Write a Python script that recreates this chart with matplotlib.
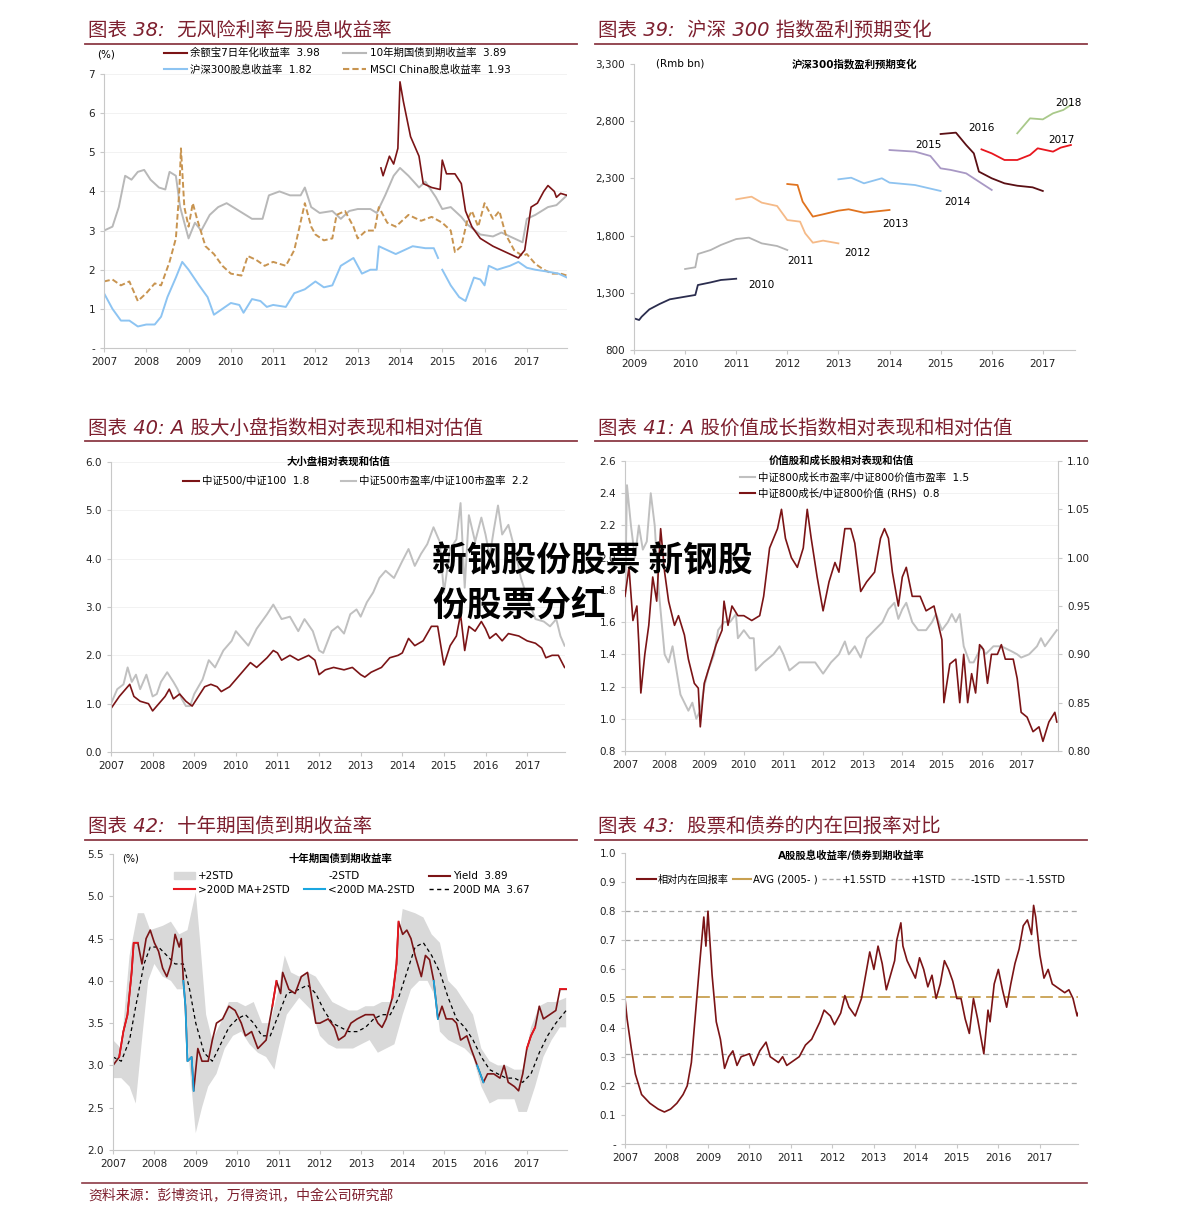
import numpy as np
import matplotlib
matplotlib.use('Agg')
import matplotlib.pyplot as plt
from matplotlib.lines import Line2D
from matplotlib.patches import Patch

plt.rcParams['font.family'] = ['DejaVu Sans', 'Noto Sans CJK SC']
plt.rcParams['axes.unicode_minus'] = False

# ---------------- data: 图表38 ----------------
yeb_x = [2013.55, 2013.6, 2013.75, 2013.85, 2013.95, 2014.0, 2014.08, 2014.25, 2014.45, 2014.55, 2014.75,
         2014.95, 2015.0, 2015.1, 2015.3, 2015.45, 2015.55, 2015.7, 2015.9, 2016.2, 2016.5, 2016.7, 2016.8,
         2016.95, 2017.1, 2017.25, 2017.4, 2017.5, 2017.65, 2017.7, 2017.8, 2017.95]
yeb_y = [4.6, 4.4, 4.9, 4.7, 5.1, 6.8, 6.3, 5.4, 4.9, 4.2, 4.1, 4.05, 4.8, 4.45, 4.45, 4.2, 3.5, 3.1, 2.8,
         2.6, 2.45, 2.35, 2.3, 2.5, 3.6, 3.7, 4.0, 4.15, 4.0, 3.85, 3.95, 3.9]
bond_x = [2007.0, 2007.2, 2007.35, 2007.5, 2007.65, 2007.8, 2007.95, 2008.1, 2008.3, 2008.45, 2008.55, 2008.7,
          2008.8, 2008.9, 2009.0, 2009.15, 2009.3, 2009.5, 2009.7, 2009.9, 2010.2, 2010.5, 2010.75, 2010.9,
          2011.15, 2011.4, 2011.65, 2011.75, 2011.9, 2012.1, 2012.4, 2012.6, 2012.8, 2013.0, 2013.3, 2013.45,
          2013.65, 2013.85, 2014.0, 2014.2, 2014.45, 2014.6, 2014.85, 2015.0, 2015.2, 2015.45, 2015.6, 2015.9,
          2016.2, 2016.4, 2016.7, 2016.9, 2017.0, 2017.2, 2017.5, 2017.7, 2017.95]
bond_y = [3.0, 3.1, 3.6, 4.4, 4.3, 4.5, 4.55, 4.3, 4.1, 4.05, 4.5, 4.4, 3.6, 3.2, 2.8, 3.2, 3.0, 3.4, 3.6,
          3.7, 3.5, 3.3, 3.3, 3.9, 4.0, 3.9, 3.9, 4.1, 3.6, 3.45, 3.5, 3.3, 3.5, 3.55, 3.55, 3.45, 3.9, 4.4,
          4.6, 4.4, 4.1, 4.25, 3.85, 3.55, 3.6, 3.35, 3.15, 2.9, 2.85, 2.95, 2.8, 2.7, 3.3, 3.4, 3.6, 3.65, 3.9]
hs_x = [2007.0, 2007.2, 2007.4, 2007.6, 2007.8, 2008.0, 2008.2, 2008.35, 2008.5, 2008.7, 2008.85, 2009.0,
        2009.25, 2009.45, 2009.6, 2009.8, 2010.0, 2010.2, 2010.3, 2010.5, 2010.7, 2010.85, 2011.0, 2011.3,
        2011.5, 2011.75, 2012.0, 2012.2, 2012.4, 2012.6, 2012.9, 2013.1, 2013.3, 2013.45, 2013.5, 2013.7,
        2013.9, 2014.1, 2014.3, 2014.6, 2014.8, 2014.9, 2014.95, 2015.0, 2015.2, 2015.4, 2015.55, 2015.65,
        2015.75, 2015.9, 2016.0, 2016.1, 2016.3, 2016.6, 2016.8, 2017.0, 2017.2, 2017.5, 2017.75, 2017.95]
hs_y = [1.4, 1.0, 0.7, 0.7, 0.55, 0.6, 0.6, 0.8, 1.3, 1.8, 2.2, 2.0, 1.6, 1.3, 0.85, 1.0, 1.15, 1.1, 0.9,
        1.25, 1.2, 1.05, 1.1, 1.05, 1.4, 1.5, 1.7, 1.55, 1.6, 2.1, 2.3, 1.9, 2.0, 2.0, 2.6, 2.5, 2.4, 2.5,
        2.6, 2.55, 2.55, 2.3, np.nan, 2.0, 1.6, 1.3, 1.2, 1.5, 1.8, 1.75, 1.6, 2.1, 2.0, 2.1, 2.2, 2.05,
        2.0, 1.95, 1.9, 1.8]
msci_x = [2007.0, 2007.2, 2007.4, 2007.6, 2007.8, 2008.0, 2008.2, 2008.35, 2008.55, 2008.7, 2008.78, 2008.82,
          2008.9, 2009.0, 2009.1, 2009.2, 2009.4, 2009.6, 2009.8, 2010.0, 2010.25, 2010.4, 2010.6, 2010.8,
          2011.0, 2011.3, 2011.5, 2011.75, 2011.9, 2012.0, 2012.2, 2012.4, 2012.5, 2012.7, 2012.9, 2013.0,
          2013.2, 2013.4, 2013.5, 2013.7, 2013.9, 2014.2, 2014.5, 2014.75, 2015.0, 2015.2, 2015.3, 2015.45,
          2015.6, 2015.7, 2015.85, 2016.0, 2016.2, 2016.35, 2016.5, 2016.7, 2016.9, 2017.0, 2017.2, 2017.4,
          2017.6, 2017.8, 2017.95]
msci_y = [1.7, 1.75, 1.6, 1.7, 1.2, 1.4, 1.65, 1.6, 2.2, 2.8, 4.0, 5.1, 3.6, 3.1, 3.7, 3.3, 2.6, 2.4, 2.1,
          1.9, 1.85, 2.35, 2.25, 2.1, 2.2, 2.1, 2.5, 3.7, 3.1, 2.9, 2.75, 2.8, 3.4, 3.5, 3.1, 2.8, 3.0, 3.0,
          3.6, 3.2, 3.1, 3.4, 3.25, 3.35, 3.2, 3.0, 2.45, 2.6, 3.3, 3.5, 3.1, 3.7, 3.3, 3.5, 2.9, 2.5, 2.35,
          2.4, 2.15, 2.0, 1.9, 1.9, 1.85]

# ---------------- data: 图表39 ----------------
eps_years = ['2010', '2011', '2012', '2013', '2014', '2015', '2016', '2017', '2018']
eps_colors = ['#2b2d4e', '#b4b4b4', '#f5ba88', '#e0731f', '#8ec3f0', '#a898c4', '#5a0f14', '#e8161e', '#a9c98a']
eps_x = [
    [2009.0, 2009.1, 2009.15, 2009.3, 2009.5, 2009.7, 2010.0, 2010.2, 2010.25, 2010.5, 2010.7, 2011.0],
    [2010.0, 2010.2, 2010.25, 2010.5, 2010.7, 2011.0, 2011.25, 2011.5, 2011.8, 2012.0],
    [2011.0, 2011.3, 2011.5, 2011.8, 2012.0, 2012.25, 2012.35, 2012.5, 2012.7, 2013.0],
    [2012.0, 2012.2, 2012.3, 2012.5, 2012.7, 2013.0, 2013.2, 2013.5, 2014.0],
    [2013.0, 2013.25, 2013.5, 2013.85, 2014.0, 2014.5, 2014.75, 2015.0],
    [2014.0, 2014.5, 2014.8, 2015.0, 2015.2, 2015.5, 2015.8, 2016.0],
    [2015.0, 2015.3, 2015.5, 2015.65, 2015.75, 2016.0, 2016.25, 2016.5, 2016.8, 2017.0],
    [2015.8, 2016.0, 2016.25, 2016.5, 2016.75, 2016.9, 2017.2, 2017.35, 2017.55],
    [2016.5, 2016.75, 2017.0, 2017.2, 2017.4, 2017.55],
]
eps_y = [
    [1077, 1062, 1091, 1155, 1202, 1243, 1266, 1281, 1368, 1391, 1412, 1423],
    [1508, 1523, 1639, 1674, 1718, 1770, 1782, 1732, 1709, 1674],
    [2117, 2140, 2088, 2059, 1936, 1922, 1820, 1738, 1756, 1732],
    [2251, 2242, 2097, 1966, 1986, 2018, 2030, 2000, 2024],
    [2292, 2306, 2257, 2301, 2263, 2242, 2216, 2190],
    [2548, 2534, 2496, 2388, 2374, 2344, 2257, 2199],
    [2688, 2700, 2592, 2519, 2359, 2301, 2257, 2236, 2222, 2190],
    [2554, 2519, 2461, 2461, 2505, 2563, 2534, 2569, 2592],
    [2694, 2825, 2816, 2869, 2898, 2942],
]
eps_label_pos = [(2011.5, 1368), (2012.25, 1581), (2013.38, 1645), (2014.12, 1901), (2015.32, 2091),
                 (2014.77, 2592), (2015.79, 2738), (2017.36, 2636), (2017.5, 2962)]

# ---------------- data: 图表40 ----------------
sc_pe_x = [2007.0, 2007.15, 2007.3, 2007.4, 2007.5, 2007.6, 2007.7, 2007.85, 2008.0, 2008.1, 2008.2, 2008.35,
           2008.5, 2008.6, 2008.7, 2008.8, 2008.9, 2009.0, 2009.2, 2009.35, 2009.5, 2009.7, 2009.9, 2010.0,
           2010.2, 2010.3, 2010.5, 2010.75, 2010.9, 2011.1, 2011.3, 2011.5, 2011.65, 2011.85, 2012.0, 2012.1,
           2012.3, 2012.45, 2012.6, 2012.75, 2012.9, 2013.0, 2013.15, 2013.3, 2013.45, 2013.6, 2013.8, 2014.0,
           2014.15, 2014.3, 2014.45, 2014.6, 2014.75, 2014.9, 2015.0, 2015.15, 2015.3, 2015.4, 2015.5, 2015.6,
           2015.75, 2015.9, 2016.0, 2016.1, 2016.2, 2016.3, 2016.4, 2016.55, 2016.7, 2016.85, 2017.0, 2017.2,
           2017.4, 2017.55, 2017.7, 2017.8, 2017.9]
sc_pe_y = [1.0, 1.3, 1.4, 1.75, 1.45, 1.6, 1.3, 1.6, 1.15, 1.2, 1.45, 1.65, 1.45, 1.3, 1.1, 0.95, 0.95, 1.2,
           1.5, 1.9, 1.75, 2.1, 2.3, 2.5, 2.3, 2.2, 2.55, 2.85, 3.05, 2.75, 2.8, 2.5, 2.75, 2.5, 2.1, 2.05,
           2.5, 2.6, 2.45, 2.85, 2.95, 2.8, 3.1, 3.3, 3.6, 3.75, 3.6, 3.95, 4.2, 3.85, 4.1, 4.3, 4.65, 4.35,
           3.3, 4.2, 4.4, 5.15, 3.4, 4.9, 4.35, 4.85, 4.5, 4.05, 4.6, 5.1, 4.5, 4.7, 4.2, 3.6, 3.2, 2.75, 2.7,
           2.6, 2.75, 2.4, 2.2]
sc_rel_x = [2007.0, 2007.2, 2007.35, 2007.45, 2007.55, 2007.7, 2007.9, 2008.0, 2008.15, 2008.3, 2008.4,
            2008.5, 2008.65, 2008.8, 2008.95, 2009.1, 2009.25, 2009.4, 2009.55, 2009.65, 2009.85, 2010.0,
            2010.2, 2010.35, 2010.5, 2010.75, 2010.9, 2011.0, 2011.1, 2011.3, 2011.5, 2011.75, 2011.9, 2012.0,
            2012.15, 2012.35, 2012.6, 2012.8, 2013.0, 2013.1, 2013.25, 2013.5, 2013.7, 2013.9, 2014.0, 2014.15,
            2014.3, 2014.5, 2014.7, 2014.85, 2015.0, 2015.15, 2015.3, 2015.4, 2015.5, 2015.6, 2015.75, 2015.9,
            2016.0, 2016.1, 2016.25, 2016.4, 2016.55, 2016.8, 2017.0, 2017.2, 2017.35, 2017.45, 2017.6, 2017.75,
            2017.9]
sc_rel_y = [0.9, 1.15, 1.3, 1.4, 1.15, 1.05, 1.0, 0.85, 1.0, 1.15, 1.3, 1.1, 1.2, 1.05, 0.95, 1.15, 1.35,
            1.4, 1.35, 1.25, 1.35, 1.5, 1.7, 1.85, 1.75, 1.95, 2.1, 2.05, 1.9, 2.0, 1.9, 2.0, 1.9, 1.6, 1.7,
            1.75, 1.7, 1.75, 1.6, 1.55, 1.65, 1.75, 1.95, 2.0, 2.05, 2.35, 2.2, 2.3, 2.6, 2.6, 1.8, 2.2, 2.4,
            2.85, 2.1, 2.6, 2.5, 2.7, 2.55, 2.35, 2.45, 2.3, 2.45, 2.4, 2.3, 2.25, 2.15, 1.95, 2.0, 2.0, 1.75]

# ---------------- data: 图表41 ----------------
vg_pe_x = [2007.0, 2007.05, 2007.15, 2007.25, 2007.35, 2007.45, 2007.55, 2007.65, 2007.75, 2007.85, 2008.0,
           2008.1, 2008.2, 2008.3, 2008.4, 2008.5, 2008.6, 2008.7, 2008.8, 2008.9, 2009.0, 2009.1, 2009.25,
           2009.35, 2009.5, 2009.65, 2009.8, 2009.85, 2010.0, 2010.15, 2010.25, 2010.3, 2010.5, 2010.75,
           2010.9, 2011.0, 2011.15, 2011.4, 2011.6, 2011.8, 2012.0, 2012.2, 2012.4, 2012.55, 2012.65, 2012.8,
           2012.95, 2013.1, 2013.3, 2013.5, 2013.65, 2013.8, 2013.9, 2014.0, 2014.1, 2014.25, 2014.4, 2014.6,
           2014.75, 2014.85, 2015.0, 2015.15, 2015.25, 2015.35, 2015.45, 2015.55, 2015.7, 2015.8, 2016.0,
           2016.1, 2016.3, 2016.5, 2016.75, 2016.9, 2017.0, 2017.2, 2017.4, 2017.5, 2017.6, 2017.75, 2017.9]
vg_pe_y = [1.7, 2.45, 2.2, 2.0, 2.2, 2.05, 2.1, 2.4, 2.2, 1.8, 1.4, 1.35, 1.45, 1.3, 1.15, 1.1, 1.05, 1.1,
           1.0, 1.05, 1.2, 1.3, 1.4, 1.55, 1.6, 1.6, 1.65, 1.5, 1.55, 1.5, 1.5, 1.3, 1.35, 1.4, 1.45, 1.4,
           1.3, 1.35, 1.35, 1.35, 1.28, 1.35, 1.4, 1.48, 1.4, 1.45, 1.38, 1.5, 1.55, 1.6, 1.68, 1.72, 1.62,
           1.68, 1.72, 1.6, 1.55, 1.55, 1.6, 1.65, 1.55, 1.6, 1.65, 1.6, 1.65, 1.45, 1.35, 1.35, 1.45, 1.4,
           1.45, 1.45, 1.42, 1.4, 1.38, 1.4, 1.45, 1.5, 1.45, 1.5, 1.55]
vg_rel_x = [2007.0, 2007.1, 2007.2, 2007.3, 2007.35, 2007.4, 2007.5, 2007.6, 2007.7, 2007.8, 2007.9, 2008.0,
            2008.1, 2008.25, 2008.35, 2008.5, 2008.6, 2008.75, 2008.85, 2008.9, 2009.0, 2009.15, 2009.3,
            2009.45, 2009.5, 2009.6, 2009.7, 2009.85, 2010.0, 2010.2, 2010.4, 2010.5, 2010.65, 2010.85,
            2010.95, 2011.05, 2011.2, 2011.35, 2011.5, 2011.6, 2011.7, 2011.85, 2012.0, 2012.15, 2012.3,
            2012.4, 2012.55, 2012.7, 2012.8, 2012.95, 2013.1, 2013.3, 2013.45, 2013.55, 2013.65, 2013.75,
            2013.9, 2014.0, 2014.1, 2014.25, 2014.45, 2014.6, 2014.8, 2015.0, 2015.05, 2015.2, 2015.35,
            2015.45, 2015.55, 2015.65, 2015.75, 2015.85, 2015.95, 2016.05, 2016.15, 2016.25, 2016.4, 2016.5,
            2016.6, 2016.8, 2016.9, 2017.0, 2017.15, 2017.3, 2017.45, 2017.55, 2017.7, 2017.85, 2017.9]
vg_rel_y = [0.96, 0.99, 0.935, 0.95, 0.91, 0.86, 0.9, 0.93, 0.98, 0.955, 1.03, 0.985, 0.955, 0.93, 0.94,
            0.92, 0.895, 0.87, 0.865, 0.825, 0.87, 0.89, 0.91, 0.925, 0.955, 0.93, 0.95, 0.94, 0.94, 0.935,
            0.94, 0.96, 1.01, 1.03, 1.05, 1.02, 1.0, 0.99, 1.01, 1.05, 1.02, 0.98, 0.945, 0.975, 0.995, 0.985,
            1.03, 1.03, 1.015, 0.965, 0.975, 0.985, 1.02, 1.03, 1.02, 0.985, 0.95, 0.98, 0.99, 0.96, 0.96,
            0.945, 0.95, 0.915, 0.85, 0.89, 0.895, 0.85, 0.9, 0.85, 0.88, 0.86, 0.91, 0.905, 0.87, 0.9, 0.9,
            0.91, 0.895, 0.895, 0.875, 0.84, 0.835, 0.82, 0.825, 0.81, 0.83, 0.84, 0.83]

# ---------------- data: 图表42 ----------------
yld_x = [2007.0, 2007.15, 2007.25, 2007.35, 2007.45, 2007.5, 2007.6, 2007.7, 2007.8, 2007.9, 2008.0, 2008.1,
         2008.2, 2008.3, 2008.4, 2008.5, 2008.6, 2008.65, 2008.7, 2008.75, 2008.8, 2008.9, 2008.95, 2009.05,
         2009.15, 2009.3, 2009.4, 2009.5, 2009.65, 2009.8, 2009.95, 2010.1, 2010.2, 2010.35, 2010.5, 2010.7,
         2010.85, 2010.95, 2011.05, 2011.1, 2011.25, 2011.4, 2011.55, 2011.7, 2011.8, 2011.9, 2012.0, 2012.2,
         2012.35, 2012.45, 2012.6, 2012.75, 2012.9, 2013.1, 2013.3, 2013.4, 2013.5, 2013.6, 2013.75, 2013.85,
         2013.9, 2014.0, 2014.1, 2014.2, 2014.3, 2014.45, 2014.55, 2014.65, 2014.75, 2014.85, 2014.95, 2015.05,
         2015.2, 2015.3, 2015.4, 2015.55, 2015.65, 2015.8, 2015.95, 2016.05, 2016.2, 2016.35, 2016.45, 2016.55,
         2016.7, 2016.8, 2016.9, 2017.0, 2017.1, 2017.2, 2017.3, 2017.4, 2017.55, 2017.7, 2017.8, 2017.95]
yld_y = [3.0, 3.1, 3.4, 3.6, 4.1, 4.45, 4.45, 4.2, 4.5, 4.6, 4.45, 4.35, 4.15, 4.05, 4.2, 4.55, 4.4, 4.5,
         4.0, 3.7, 3.05, 3.1, 2.7, 3.2, 3.05, 3.05, 3.3, 3.5, 3.55, 3.7, 3.65, 3.5, 3.35, 3.4, 3.2, 3.3, 3.7,
         4.0, 3.85, 4.1, 3.9, 3.85, 4.05, 4.1, 3.8, 3.5, 3.5, 3.55, 3.45, 3.3, 3.35, 3.5, 3.55, 3.6, 3.6,
         3.5, 3.45, 3.55, 3.8, 4.2, 4.7, 4.55, 4.6, 4.5, 4.3, 4.05, 4.3, 4.25, 4.0, 3.55, 3.7, 3.55, 3.55,
         3.5, 3.3, 3.35, 3.2, 3.0, 2.8, 2.9, 2.9, 2.85, 3.0, 2.8, 2.75, 2.7, 2.9, 3.2, 3.35, 3.45, 3.7, 3.55,
         3.6, 3.65, 3.9, 3.9]
hot_ranges = [(2007.1, 2007.62), (2010.8, 2010.97), (2013.7, 2013.95), (2016.95, 2017.22), (2017.75, 2017.95)]
cold_ranges = [(2008.7, 2008.96), (2014.7, 2014.87), (2015.75, 2015.97), (2016.62, 2016.72)]
ma_x = [2007.0, 2007.2, 2007.4, 2007.55, 2007.75, 2007.9, 2008.1, 2008.3, 2008.5, 2008.7, 2008.85, 2009.0,
        2009.2, 2009.4, 2009.6, 2009.8, 2010.0, 2010.2, 2010.4, 2010.6, 2010.8, 2011.0, 2011.2, 2011.5,
        2011.7, 2011.9, 2012.1, 2012.3, 2012.5, 2012.7, 2012.9, 2013.1, 2013.3, 2013.5, 2013.7, 2013.9,
        2014.1, 2014.3, 2014.5, 2014.7, 2014.9, 2015.1, 2015.3, 2015.5, 2015.7, 2015.9, 2016.1, 2016.3,
        2016.5, 2016.7, 2016.9, 2017.1, 2017.3, 2017.5, 2017.7, 2017.95]
ma_y = [3.1, 3.05, 3.3, 3.7, 4.2, 4.4, 4.4, 4.3, 4.2, 4.2, 3.9, 3.5, 3.15, 3.05, 3.25, 3.45, 3.55, 3.6, 3.5,
        3.35, 3.35, 3.6, 3.85, 3.9, 3.95, 3.85, 3.65, 3.5, 3.45, 3.4, 3.4, 3.45, 3.55, 3.6, 3.6, 3.8, 4.1,
        4.4, 4.45, 4.3, 4.1, 3.8, 3.55, 3.45, 3.3, 3.1, 2.95, 2.9, 2.85, 2.85, 2.8, 2.9, 3.15, 3.35, 3.5, 3.65]
up_x = [2007.0, 2007.2, 2007.4, 2007.6, 2007.75, 2007.9, 2008.2, 2008.4, 2008.6, 2008.8, 2009.0, 2009.1,
        2009.25, 2009.4, 2009.6, 2009.8, 2010.0, 2010.2, 2010.4, 2010.6, 2010.8, 2011.0, 2011.15, 2011.3,
        2011.5, 2011.7, 2011.9, 2012.1, 2012.3, 2012.5, 2012.7, 2012.9, 2013.1, 2013.3, 2013.5, 2013.7,
        2013.85, 2014.0, 2014.3, 2014.5, 2014.7, 2014.9, 2015.1, 2015.3, 2015.5, 2015.7, 2015.9, 2016.1,
        2016.3, 2016.5, 2016.7, 2016.9, 2017.1, 2017.3, 2017.5, 2017.7, 2017.95]
up_y = [3.3, 3.2, 4.3, 4.8, 4.8, 4.6, 4.65, 4.7, 4.55, 4.6, 5.05, 4.5, 3.6, 3.3, 3.5, 3.75, 3.75, 3.7, 3.75,
        3.5, 3.5, 3.9, 4.3, 4.1, 4.05, 4.1, 4.05, 3.9, 3.75, 3.7, 3.65, 3.65, 3.7, 3.7, 3.75, 3.75, 4.3, 4.85,
        4.8, 4.75, 4.55, 4.45, 4.0, 3.9, 3.75, 3.6, 3.2, 3.05, 3.0, 3.0, 2.95, 2.95, 3.45, 3.7, 3.75, 3.75, 3.8]
lo_x = [2007.0, 2007.2, 2007.4, 2007.55, 2007.7, 2007.85, 2008.0, 2008.2, 2008.4, 2008.55, 2008.7, 2008.85,
        2009.0, 2009.15, 2009.3, 2009.5, 2009.7, 2009.9, 2010.1, 2010.3, 2010.5, 2010.7, 2010.9, 2011.0,
        2011.2, 2011.5, 2011.8, 2012.0, 2012.2, 2012.4, 2012.6, 2012.8, 2013.0, 2013.2, 2013.4, 2013.6,
        2013.8, 2014.0, 2014.2, 2014.4, 2014.6, 2014.8, 2014.9, 2015.1, 2015.3, 2015.5, 2015.7, 2015.9,
        2016.1, 2016.3, 2016.5, 2016.7, 2016.8, 2017.0, 2017.2, 2017.4, 2017.6, 2017.8, 2017.95]
lo_y = [2.85, 2.85, 2.75, 2.55, 3.3, 4.0, 4.2, 4.05, 4.0, 3.9, 3.9, 3.0, 2.2, 2.5, 2.75, 2.9, 3.2, 3.35, 3.4,
        3.25, 3.15, 3.1, 2.95, 3.2, 3.6, 3.8, 3.65, 3.35, 3.25, 3.2, 3.2, 3.2, 3.25, 3.3, 3.15, 3.2, 3.25,
        3.6, 3.9, 4.0, 4.0, 3.8, 3.4, 3.3, 3.25, 3.2, 3.1, 2.75, 2.55, 2.6, 2.6, 2.6, 2.45, 2.45, 2.75, 3.1,
        3.3, 3.45, 3.45]

# ---------------- data: 图表43 ----------------
ret_x = [2007.0, 2007.05, 2007.15, 2007.25, 2007.4, 2007.6, 2007.8, 2007.95, 2008.1, 2008.25, 2008.4, 2008.5,
         2008.6, 2008.7, 2008.8, 2008.9, 2008.95, 2009.0, 2009.1, 2009.2, 2009.3, 2009.4, 2009.5, 2009.6,
         2009.7, 2009.8, 2010.0, 2010.1, 2010.25, 2010.4, 2010.5, 2010.7, 2010.8, 2010.9, 2011.0, 2011.2,
         2011.35, 2011.5, 2011.7, 2011.8, 2011.95, 2012.05, 2012.2, 2012.3, 2012.4, 2012.55, 2012.7, 2012.8,
         2012.9, 2013.0, 2013.1, 2013.2, 2013.3, 2013.4, 2013.5, 2013.55, 2013.65, 2013.7, 2013.8, 2013.9,
         2014.0, 2014.1, 2014.2, 2014.3, 2014.4, 2014.5, 2014.6, 2014.7, 2014.8, 2014.9, 2015.0, 2015.1,
         2015.2, 2015.3, 2015.4, 2015.5, 2015.6, 2015.65, 2015.75, 2015.8, 2015.9, 2016.0, 2016.1, 2016.2,
         2016.3, 2016.4, 2016.5, 2016.6, 2016.7, 2016.8, 2016.85, 2016.9, 2017.0, 2017.1, 2017.2, 2017.3,
         2017.4, 2017.5, 2017.6, 2017.7, 2017.8, 2017.9, 2017.95]
ret_y = [0.5, 0.43, 0.33, 0.24, 0.17, 0.14, 0.12, 0.11, 0.12, 0.14, 0.17, 0.2, 0.28, 0.45, 0.62, 0.78, 0.68,
         0.8, 0.58, 0.42, 0.36, 0.26, 0.3, 0.32, 0.27, 0.3, 0.31, 0.27, 0.32, 0.35, 0.3, 0.28, 0.3, 0.27, 0.28,
         0.3, 0.34, 0.36, 0.42, 0.46, 0.44, 0.41, 0.45, 0.51, 0.47, 0.44, 0.5, 0.58, 0.66, 0.6, 0.68, 0.62,
         0.53, 0.58, 0.63, 0.7, 0.76, 0.68, 0.63, 0.6, 0.57, 0.64, 0.6, 0.54, 0.58, 0.5, 0.55, 0.63, 0.6, 0.56,
         0.5, 0.5, 0.43, 0.38, 0.5, 0.43, 0.35, 0.31, 0.46, 0.42, 0.55, 0.6, 0.53, 0.47, 0.55, 0.62, 0.67,
         0.75, 0.77, 0.72, 0.82, 0.78, 0.65, 0.57, 0.6, 0.55, 0.54, 0.53, 0.52, 0.53, 0.5, 0.44, 0.46]
ret_avg = 0.505
ret_bands = [0.80, 0.70, 0.31, 0.21]

years_07 = list(range(2007, 2018))
years_09 = list(range(2009, 2018))

# ---------------- figure ----------------
W, H = 1191, 1225
fig = plt.figure(figsize=(W / 100, H / 100), dpi=100)
TITLE_C = '#7d1f2e'
GRID_C = '#c8c8c8'
DARK = '#7b1416'


def rect(x0, y0, x1, y1):
    return [x0 / W, (H - y1) / H, (x1 - x0) / W, (y1 - y0) / H]


def header(x, y, text, x0, x1, yl):
    fig.text(x / W, 1 - y / H, text, fontsize=14, color=TITLE_C, va='center', ha='left',
             family=['DejaVu Sans', 'Noto Sans CJK SC'], style='italic')
    fig.add_artist(Line2D([x0 / W, x1 / W], [1 - yl / H, 1 - yl / H], color='#8c3a45', lw=1.3))


def style(ax):
    for s in ['top', 'right']:
        ax.spines[s].set_visible(False)
    for s in ['left', 'bottom']:
        ax.spines[s].set_color(GRID_C)
        ax.spines[s].set_linewidth(0.8)
    ax.tick_params(axis='both', labelsize=7.5, colors=GRID_C, labelcolor='#222222', length=3, width=0.8)


def small_legend(ax, handles, labels, **kw):
    opts = dict(frameon=False, fontsize=7.5, handlelength=2.2, handletextpad=0.3, borderaxespad=0)
    opts.update(kw)
    return ax.legend(handles, labels, **opts)


# 图表38
header(88, 30, '图表 38:  无风险利率与股息收益率', 85, 577, 44)
ax = fig.add_axes(rect(104, 74, 567, 348))
style(ax)
ax.plot(bond_x, bond_y, color='#b8b8b8', lw=1.4)
ax.plot(msci_x, msci_y, color='#c89450', lw=1.4, ls=(0, (3, 1.5)))
ax.plot(hs_x, hs_y, color='#8dc4f2', lw=1.4)
ax.plot(yeb_x, yeb_y, color=DARK, lw=1.2)
ax.set_xlim(2007, 2017.95)
ax.set_ylim(0, 7)
ax.set_xticks(years_07)
ax.set_yticks(range(0, 8))
ax.set_yticklabels(['-', '1', '2', '3', '4', '5', '6', '7'])
ax.yaxis.grid(True, color='#f0f0f0', lw=0.6)
ax.set_axisbelow(True)
ax.text(-0.015, 1.07, '(%)', transform=ax.transAxes, fontsize=7.5, ha='left', va='center')
h = [Line2D([], [], color=DARK, lw=1.5), Line2D([], [], color='#8dc4f2', lw=1.5),
     Line2D([], [], color='#b8b8b8', lw=1.5), Line2D([], [], color='#c89450', lw=1.5, ls=(0, (3, 1.5)))]
small_legend(ax, h, ['余额宝7日年化收益率  3.98', '沪深300股息收益率  1.82', '10年期国债到期收益率  3.89',
                     'MSCI China股息收益率  1.93'],
             ncol=2, loc='upper left', bbox_to_anchor=(0.12, 1.11), columnspacing=2.3, labelspacing=0.55)

# 图表39
header(598, 30, '图表 39:  沪深 300 指数盈利预期变化', 595, 1087, 44)
ax = fig.add_axes(rect(634, 64, 1075, 350))
style(ax)
for xs, ys, c in zip(eps_x, eps_y, eps_colors):
    ax.plot(xs, ys, color=c, lw=1.3)
for lab, (lx, ly) in zip(eps_years, eps_label_pos):
    ax.text(lx, ly, lab, fontsize=7.5, ha='center', va='center')
ax.set_xlim(2009, 2017.63)
ax.set_ylim(800, 3300)
ax.set_xticks(years_09)
ax.set_yticks([800, 1300, 1800, 2300, 2800, 3300])
ax.set_yticklabels(['800', '1,300', '1,800', '2,300', '2,800', '3,300'])
ax.text(0.05, 1.0, '(Rmb bn)', transform=ax.transAxes, fontsize=7.5, ha='left', va='center')
ax.text(0.5, 1.0, '沪深300指数盈利预期变化', transform=ax.transAxes, fontsize=7.5, ha='center', va='center',
        fontweight='bold')

# 图表40
header(88, 428, '图表 40: A 股大小盘指数相对表现和相对估值', 85, 577, 441)
ax = fig.add_axes(rect(111, 462, 565, 752))
style(ax)
ax.plot(sc_pe_x, sc_pe_y, color='#c0c0c0', lw=1.4)
ax.plot(sc_rel_x, sc_rel_y, color=DARK, lw=1.2)
ax.set_xlim(2007, 2017.91)
ax.set_ylim(0, 6)
ax.set_xticks(years_07)
ax.set_yticks(np.arange(0, 6.1, 1.0))
ax.set_yticklabels(['0.0', '1.0', '2.0', '3.0', '4.0', '5.0', '6.0'])
ax.yaxis.grid(True, color='#f0f0f0', lw=0.6)
ax.set_axisbelow(True)
ax.text(0.5, 1.0, '大小盘相对表现和估值', transform=ax.transAxes, fontsize=7.5, ha='center', va='center',
        fontweight='bold')
h = [Line2D([], [], color=DARK, lw=1.5), Line2D([], [], color='#c0c0c0', lw=1.5)]
small_legend(ax, h, ['中证500/中证100  1.8', '中证500市盈率/中证100市盈率  2.2'], ncol=2,
             loc='upper center', bbox_to_anchor=(0.54, 0.965), columnspacing=3.0, handlelength=1.5)

# 图表41
header(598, 428, '图表 41: A 股价值成长指数相对表现和相对估值', 595, 1087, 441)
ax = fig.add_axes(rect(625, 461, 1058, 751))
style(ax)
ax2 = ax.twinx()
for s in ['top', 'left', 'bottom']:
    ax2.spines[s].set_visible(False)
ax2.spines['right'].set_color(GRID_C)
ax2.spines['right'].set_linewidth(0.8)
ax2.tick_params(axis='y', labelsize=7.5, colors=GRID_C, labelcolor='#222222', length=3, width=0.8)
ax.plot(vg_pe_x, vg_pe_y, color='#c0c0c0', lw=1.4)
ax2.plot(vg_rel_x, vg_rel_y, color=DARK, lw=1.2)
ax.set_xlim(2007, 2017.93)
ax.set_ylim(0.8, 2.6)
ax2.set_ylim(0.80, 1.10)
ax.set_xticks(years_07)
ax.set_yticks(np.arange(0.8, 2.61, 0.2))
ax.set_yticklabels(['0.8', '1.0', '1.2', '1.4', '1.6', '1.8', '2.0', '2.2', '2.4', '2.6'])
ax2.set_yticks(np.arange(0.80, 1.101, 0.05))
ax2.set_yticklabels(['0.80', '0.85', '0.90', '0.95', '1.00', '1.05', '1.10'])
ax.yaxis.grid(True, color='#f0f0f0', lw=0.6)
ax.set_axisbelow(True)
ax.text(0.5, 1.0, '价值股和成长股相对表现和估值', transform=ax.transAxes, fontsize=7.5, ha='center',
        va='center', fontweight='bold')
h = [Line2D([], [], color='#c0c0c0', lw=1.5), Line2D([], [], color=DARK, lw=1.5)]
small_legend(ax2, h, ['中证800成长市盈率/中证800价值市盈率  1.5', '中证800成长/中证800价值 (RHS)  0.8'],
             ncol=1, loc='upper left', bbox_to_anchor=(0.255, 0.975), handlelength=1.5, labelspacing=0.5)

# 图表42
header(88, 826, '图表 42:  十年期国债到期收益率', 85, 577, 840)
ax = fig.add_axes(rect(113, 854, 567, 1150))
style(ax)
ax.fill(np.concatenate([up_x, lo_x[::-1]]), np.concatenate([up_y, lo_y[::-1]]), color='#d9d9d9', lw=0)
ax.plot(ma_x, ma_y, color='black', lw=0.9, ls=(0, (3, 2.5)))
yx = np.array(yld_x)
yy = np.array(yld_y)
ax.plot(yx, yy, color=DARK, lw=1.2)
for a, b in hot_ranges:
    m = (yx >= a) & (yx <= b)
    ax.plot(yx[m], yy[m], color='#e8161e', lw=1.3)
for a, b in cold_ranges:
    m = (yx >= a) & (yx <= b)
    ax.plot(yx[m], yy[m], color='#1aa6e0', lw=1.3)
ax.set_xlim(2007, 2017.97)
ax.set_ylim(2.0, 5.5)
ax.set_xticks(years_07)
ax.set_yticks(np.arange(2.0, 5.51, 0.5))
ax.set_yticklabels(['2.0', '2.5', '3.0', '3.5', '4.0', '4.5', '5.0', '5.5'])
ax.text(0.02, 0.985, '(%)', transform=ax.transAxes, fontsize=7, ha='left', va='center')
ax.text(0.5, 0.985, '十年期国债到期收益率', transform=ax.transAxes, fontsize=7.5, ha='center', va='center',
        fontweight='bold')
h = [Patch(color='#d9d9d9'), Line2D([], [], color='#e8161e', lw=1.5),
     Patch(color='white'), Line2D([], [], color='#1aa6e0', lw=1.5),
     Line2D([], [], color=DARK, lw=1.5), Line2D([], [], color='black', lw=1.0, ls=(0, (3, 2.5)))]
small_legend(ax, h, ['+2STD', '>200D MA+2STD', '-2STD', '<200D MA-2STD', 'Yield  3.89', '200D MA  3.67'],
             ncol=3, loc='upper left', bbox_to_anchor=(0.125, 0.955), columnspacing=1.4, handlelength=2.0,
             labelspacing=0.35)

# 图表43
header(598, 826, '图表 43:  股票和债券的内在回报率对比', 595, 1087, 840)
ax = fig.add_axes(rect(625, 853, 1078, 1144))
style(ax)
for v in ret_bands:
    ax.axhline(v, color='#a6a6a6', lw=0.9, ls=(0, (4, 3)))
ax.axhline(ret_avg, color='#c8a050', lw=1.3, ls=(0, (7, 3)))
ax.plot(ret_x, ret_y, color=DARK, lw=1.2)
ax.set_xlim(2007, 2017.92)
ax.set_ylim(0, 1.0)
ax.set_xticks(years_07)
ax.set_yticks(np.arange(0, 1.01, 0.1))
ax.set_yticklabels(['-', '0.1', '0.2', '0.3', '0.4', '0.5', '0.6', '0.7', '0.8', '0.9', '1.0'])
ax.text(0.5, 0.99, 'A股股息收益率/债券到期收益率', transform=ax.transAxes, fontsize=7.5, ha='center',
        va='center', fontweight='bold')
h = [Line2D([], [], color=DARK, lw=1.5), Line2D([], [], color='#c8a050', lw=1.5)] + \
    [Line2D([], [], color='#a6a6a6', lw=1.0, ls=(0, (3, 2))) for _ in range(4)]
small_legend(ax, h, ['相对内在回报率', 'AVG (2005- )', '+1.5STD', '+1STD', '-1STD', '-1.5STD'],
             fontsize=7.3, ncol=6, loc='upper center', bbox_to_anchor=(0.5, 0.94), columnspacing=0.4,
             handlelength=1.8, handletextpad=0.2)

# footer
fig.add_artist(Line2D([82 / W, 1087 / W], [1 - 1183 / H, 1 - 1183 / H], color='#8c3a45', lw=1.2))
fig.text(88 / W, 1 - 1196 / H, '资料来源：彭博资讯，万得资讯，中金公司研究部', fontsize=10, color=TITLE_C,
         va='center', ha='left', family=['Noto Sans CJK SC', 'DejaVu Sans'])

# overlay text
fig.text(432 / W, 1 - 583 / H, '新钢股份股票 新钢股\n份股票分红', fontsize=25, fontweight='bold',
         color='black', va='center', ha='left', linespacing=1.35, family=['Noto Sans CJK SC', 'DejaVu Sans'])

fig.savefig('out.png', dpi=100)
